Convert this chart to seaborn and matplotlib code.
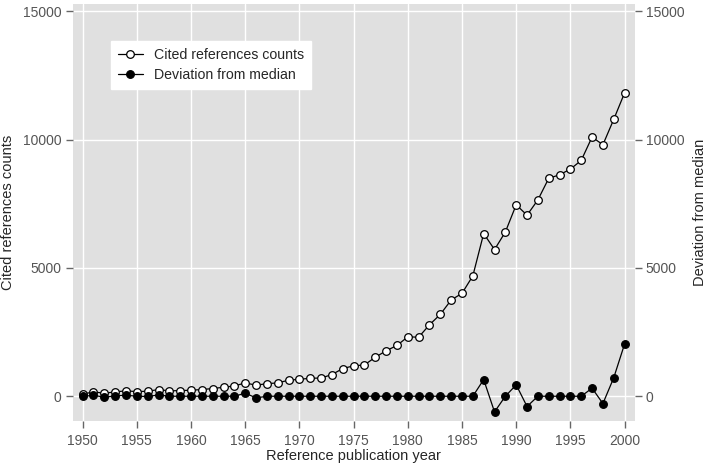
import matplotlib
matplotlib.use("Agg")
import matplotlib.pyplot as plt
import numpy as np
import pandas as pd
import seaborn as sns

years = list(range(1950, 2001))

# cited references counts (open circles)
counts = [80, 170, 115, 170, 210, 180, 195, 260, 210, 220,
          235, 260, 300, 350, 400, 520, 430, 490, 520, 625,
          660, 700, 710, 845, 1080, 1185, 1220, 1520, 1770, 1980,
          2315, 2300, 2785, 3190, 3750, 4010, 4690, 6340, 5715, 6400,
          7460, 7055, 7650, 8490, 8630, 8850, 9190, 10100, 9800, 10790,
          11820]

# deviation from median (filled circles)
deviation = [-10, 40, -40, 15, 40, 0, -10, 50, 0, 0,
             0, 0, 0, 0, 0, 120, -65, 0, 0, 0,
             0, 0, 0, 0, 0, 0, 0, 0, 0, 0,
             0, 0, 0, 0, 0, 0, 0, 650, -610, 0,
             445, -400, 0, 0, 0, 0, 0, 315, -285, 720,
             2035]

y_ticks = [0, 5000, 10000, 15000]
x_ticks = list(range(1950, 2001, 5))

df = pd.DataFrame({"year": years, "counts": counts, "deviation": deviation})

sns.set_theme(style="ticks", rc={
    "axes.facecolor": "#e0e0e0",
    "axes.grid": True,
    "grid.color": "white",
    "grid.linewidth": 1.0,
    "xtick.major.size": 5,
    "ytick.major.size": 5,
    "xtick.major.width": 1.0,
    "ytick.major.width": 1.0,
})
plt.rcParams["font.family"] = ["Liberation Sans", "DejaVu Sans"]

fig = plt.figure(figsize=(7.09, 4.63), dpi=100)
ax = fig.add_axes([0.1025, 0.0907, 0.7925, 0.9007])

sns.lineplot(data=df, x="year", y="counts", ax=ax, color="black",
             linewidth=0.9, marker="o", markersize=5.5,
             markerfacecolor="white", markeredgecolor="black",
             markeredgewidth=0.9, label="Cited references counts")

# right axis carries the deviation series, same scale as the left one
ax2 = ax.twinx()
sns.lineplot(data=df, x="year", y="deviation", ax=ax2, color="black",
             linewidth=0.9, marker="o", markersize=5.5,
             markerfacecolor="black", markeredgecolor="black",
             markeredgewidth=0.9, label="Deviation from median")
ax2.patch.set_visible(False)
ax2.grid(False)

ylim = (-965, 15285)
for a in (ax, ax2):
    a.set_ylim(*ylim)
    a.set_xlim(1949.08, 2000.92)
    a.set_yticks(y_ticks)
    a.set_yticklabels([str(t) for t in y_ticks])
    for s in a.spines.values():
        s.set_visible(False)
    a.tick_params(axis="both", which="major", direction="out", length=5,
                  width=1.0, color="#666666", labelcolor="#555555",
                  labelsize=10, pad=3)

ax.set_xticks(x_ticks)
ax.tick_params(axis="x", bottom=True, pad=4.5)
ax.tick_params(axis="y", left=True, right=False)
ax2.tick_params(axis="y", right=True, left=False)

ax.set_xlabel("Reference publication year", fontsize=10.5, labelpad=0.5)
ax.set_ylabel("Cited references counts", fontsize=10.5, labelpad=6)
ax2.set_ylabel("Deviation from median", fontsize=10.5, labelpad=6)

h1, l1 = ax.get_legend_handles_labels()
h2, l2 = ax2.get_legend_handles_labels()
ax2.get_legend().remove()
ax.get_legend().remove()
leg = ax2.legend(h1 + h2, l1 + l2, loc="upper left",
                 bbox_to_anchor=(0.068, 0.911), borderaxespad=0,
                 frameon=True, fancybox=False, framealpha=1,
                 edgecolor="white", facecolor="white", fontsize=10.2,
                 handlelength=1.75, handletextpad=0.8, borderpad=0.5,
                 labelspacing=0.4)

fig.savefig("out.png", dpi=100)
